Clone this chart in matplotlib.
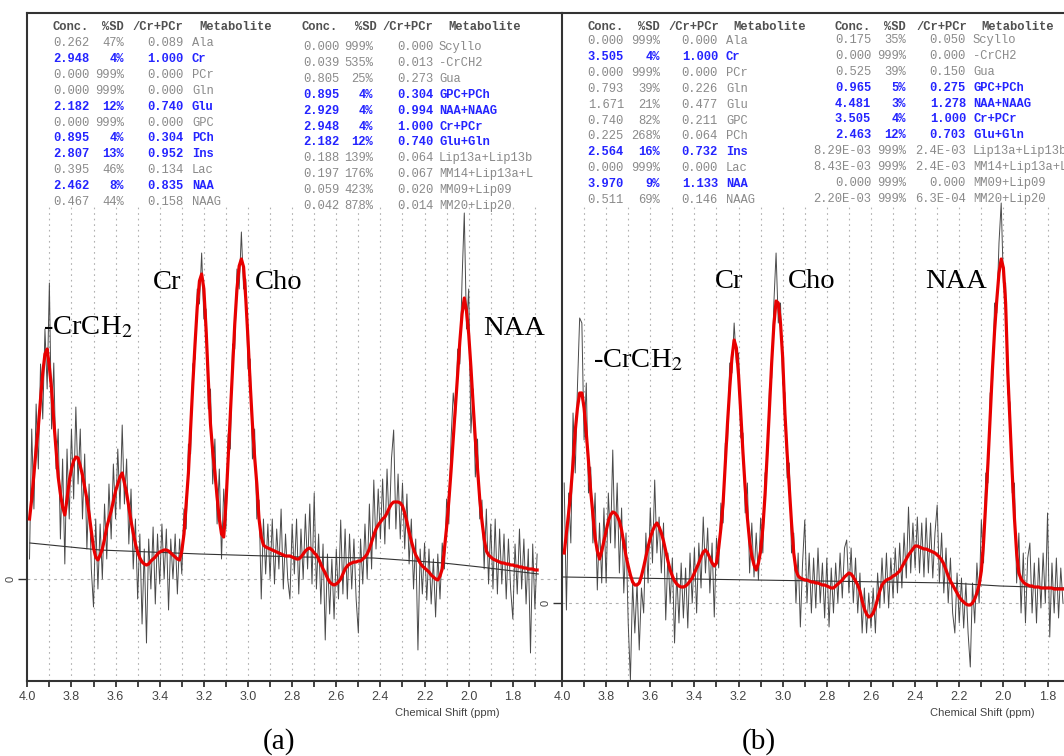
import numpy as np
import matplotlib
matplotlib.use("Agg")
import matplotlib.pyplot as plt
from matplotlib.ticker import FixedLocator, FormatStrFormatter

plt.rcParams['mathtext.fontset'] = 'stix'

# ---------------- data ----------------
# spectrum samples every 0.01 ppm, starting at 3.99 ppm
ppm_step = 0.01
ppm_start = 3.99

fit_a = [60, 80, 105, 130, 152, 180, 206, 225, 230, 212,
         190, 158, 130, 102, 85, 72, 64, 80, 98, 110,
         118, 122, 121, 113, 104, 92, 80, 65, 48, 31,
         22, 19, 24, 30, 40, 52, 60, 68, 78, 88,
         95, 102, 106, 96, 86, 72, 58, 46, 35, 27,
         21, 17, 15, 14, 15, 18, 20, 22, 25, 27,
         28, 29, 29, 28, 26, 24, 22, 20, 19, 28,
         45, 75, 106, 150, 195, 235, 272, 298, 305, 290,
         250, 200, 155, 128, 106, 82, 60, 45, 42, 75,
         120, 165, 210, 255, 290, 313, 320, 312, 280, 240,
         195, 155, 122, 95, 60, 42, 34, 32, 31, 30,
         29, 28, 27, 26, 25, 24, 23, 23, 23, 22,
         21, 20, 20, 22, 25, 28, 30, 31, 29, 26,
         24, 20, 15, 10, 6, 1, -3, -5, -6, -5,
         -3, 0, 5, 10, 13, 15, 16, 17, 17, 18,
         18, 20, 22, 25, 30, 37, 44, 50, 54, 57,
         60, 62, 66, 71, 75, 77, 77, 77, 76, 73,
         66, 57, 47, 38, 30, 24, 20, 16, 13, 11,
         9, 7, 4, 2, 0, -1, 3, 10, 30, 52,
         78, 108, 140, 172, 205, 238, 265, 281, 268, 245,
         212, 175, 140, 110, 80, 58, 40, 28, 24, 22,
         20, 19, 18, 17, 16, 16, 15, 15, 14, 14,
         13, 13, 12, 12, 11, 11, 10, 10, 10, 9,
         9]

data_a = [20, 150, 70, 175, 110, 215, 160, 250, 190, 296,
          150, 216, 110, 150, 40, 120, 15, 130, 60, 150,
          80, 172, 95, 150, 60, 125, 30, 95, 10, -28,
          60, -10, 55, 0, 75, 20, 95, 40, 115, 60,
          130, 70, 154, 75, 120, 35, 90, 10, 60, -20,
          45, -45, 30, -64, 40, -10, 52, -25, 45, -5,
          55, 0, 50, -31, 40, 0, 45, -15, 40, 5,
          70, 50, 135, 125, 215, 220, 290, 275, 326, 260,
          270, 170, 190, 95, 140, 55, 110, 20, 90, 50,
          145, 130, 235, 230, 310, 290, 347, 290, 300, 210,
          220, 120, 150, 60, 79, -20, 60, 5, 55, 0,
          60, -5, 50, 10, 70, -10, 45, 0, -20, 55,
          5, 60, -15, 50, 0, 65, 10, 75, -5, 86,
          -10, 45, -25, 35, -61, 25, -35, 20, -40, 30,
          -20, 59, -15, 50, -20, 45, -10, 40, -20, -54,
          40, -5, 55, 0, 75, 10, 99, 30, 90, 40,
          100, 35, 110, 50, 120, 149, 50, 105, 40, 96,
          30, 85, 15, 60, -10, 40, -71, 30, -15, 36,
          -21, 30, -25, 20, -38, 25, -20, 36, 10, 80,
          55, 140, 186, 160, 230, 215, 300, 366, 250, 290,
          146, 190, 102, 140, 60, 79, 10, 70, -5, 55,
          -10, 60, -15, 50, -5, 45, -20, 40, -10, -40,
          35, -15, 50, -10, 40, -25, 30, -74, 35, -30,
          25]

base_a_ppm = [3.988, 3.671, 3.218, 2.765, 2.432, 2.115, 1.949, 1.685]
base_a_val = [36, 29, 25, 22, 21, 16, 12, 5]

fit_b = [50, 70, 90, 112, 140, 172, 195, 210, 210, 195,
         170, 142, 112, 88, 65, 52, 44, 52, 62, 72,
         82, 88, 91, 90, 87, 82, 73, 60, 47, 37,
         28, 21, 18, 18, 20, 27, 36, 46, 56, 65,
         72, 77, 80, 76, 70, 62, 52, 42, 33, 27,
         22, 19, 17, 16, 16, 17, 19, 22, 25, 30,
         35, 40, 46, 51, 53, 50, 45, 40, 37, 40,
         55, 75, 100, 140, 180, 215, 245, 263, 255, 228,
         190, 150, 115, 85, 62, 47, 38, 33, 40, 52,
         75, 108, 150, 195, 240, 278, 302, 300, 280, 245,
         190, 150, 115, 80, 50, 33, 27, 25, 24, 23,
         23, 22, 21, 21, 20, 20, 19, 18, 18, 17,
         16, 15, 15, 17, 19, 21, 23, 26, 28, 30,
         29, 26, 22, 18, 12, 2, -6, -11, -14, -13,
         -10, -4, 4, 12, 18, 21, 23, 24, 25, 27,
         28, 30, 32, 36, 40, 44, 48, 51, 54, 57,
         57, 56, 55, 54, 54, 53, 52, 51, 50, 48,
         46, 43, 39, 33, 27, 22, 18, 14, 10, 6,
         3, 1, -1, -2, -2, 0, 4, 10, 18, 32,
         60, 100, 140, 185, 232, 272, 303, 330, 344, 335,
         300, 230, 180, 130, 85, 50, 30, 24, 21, 19,
         18, 17, 17, 16, 16, 16, 15, 15, 15, 15,
         15, 15, 14, 14, 14, 14, 14]

data_b = [120, -7, 110, 60, 190, 130, 216, 285, 280, 163,
          220, 110, 136, 60, 110, 13, 80, 20, 95, 20,
          110, 60, 153, 55, 120, 30, 95, 10, 70, -20,
          -77, 20, -30, 20, -47, 15, -10, 70, 20, 95,
          40, 123, 50, 86, 30, 80, -17, 50, 0, 45,
          -40, 30, -20, 40, -15, 35, -25, 50, 0, 55,
          -10, 60, 15, 86, 30, 75, 10, 60, -14, 65,
          35, 100, 80, 160, 160, 240, 230, 280, 240, 250,
          165, 170, 90, 120, 30, 80, 26, 70, 23, 85,
          50, 130, 135, 215, 225, 300, 350, 280, 300, 220,
          210, 125, 140, 50, 70, 0, 50, -24, 40, 83,
          0, 50, -10, 45, -5, 55, 0, 40, -15, 45,
          -24, 35, -10, 40, 0, 50, 5, 55, 63, 10,
          55, 0, 45, -10, 30, -30, 15, -30, 10, -25,
          15, -30, 30, -5, 45, 0, 50, -5, 45, 5,
          55, 10, 60, 15, 70, 25, 96, 30, 80, 35,
          86, 30, 80, 26, 85, 30, 80, 25, 70, 98,
          20, 70, 10, 55, 0, 45, -10, -30, 30, -20,
          25, -25, 20, -30, -64, 20, -20, 40, 0, 83,
          40, 130, 120, 210, 215, 300, 290, 360, 400, 320,
          320, 210, 200, 110, 120, 20, 70, -10, 50, -20,
          45, 60, -10, 40, -20, 45, -5, 50, 0, 90,
          -34, 40, -10, 45, -15, 35, 0]

base_b_ppm = [3.994, 2.830, 2.241, 2.015, 1.724]
base_b_val = [26, 22, 20, 17, 15]

major_ticks = [4.0, 3.8, 3.6, 3.4, 3.2, 3.0, 2.8, 2.6, 2.4, 2.2, 2.0, 1.8]
minor_ticks = [3.9, 3.7, 3.5, 3.3, 3.1, 2.9, 2.7, 2.5, 2.3, 2.1, 1.9, 1.7]

header = ["Conc.", "%SD", "/Cr+PCr", "Metabolite"]

t1_conc = ["0.262", "2.948", "0.000", "0.000", "2.182", "0.000", "0.895", "2.807", "0.395", "2.462", "0.467"]
t1_sd = ["47%", "4%", "999%", "999%", "12%", "999%", "4%", "13%", "46%", "8%", "44%"]
t1_ratio = ["0.089", "1.000", "0.000", "0.000", "0.740", "0.000", "0.304", "0.952", "0.134", "0.835", "0.158"]
t1_name = ["Ala", "Cr", "PCr", "Gln", "Glu", "GPC", "PCh", "Ins", "Lac", "NAA", "NAAG"]
t1_hi = [0, 1, 0, 0, 1, 0, 1, 1, 0, 1, 0]

t2_conc = ["0.000", "0.039", "0.805", "0.895", "2.929", "2.948", "2.182", "0.188", "0.197", "0.059", "0.042"]
t2_sd = ["999%", "535%", "25%", "4%", "4%", "4%", "12%", "139%", "176%", "423%", "878%"]
t2_ratio = ["0.000", "0.013", "0.273", "0.304", "0.994", "1.000", "0.740", "0.064", "0.067", "0.020", "0.014"]
t2_name = ["Scyllo", "-CrCH2", "Gua", "GPC+PCh", "NAA+NAAG", "Cr+PCr", "Glu+Gln",
           "Lip13a+Lip13b", "MM14+Lip13a+L", "MM09+Lip09", "MM20+Lip20"]
t2_hi = [0, 0, 0, 1, 1, 1, 1, 0, 0, 0, 0]

t3_conc = ["0.000", "3.505", "0.000", "0.793", "1.671", "0.740", "0.225", "2.564", "0.000", "3.970", "0.511"]
t3_sd = ["999%", "4%", "999%", "39%", "21%", "82%", "268%", "16%", "999%", "9%", "69%"]
t3_ratio = ["0.000", "1.000", "0.000", "0.226", "0.477", "0.211", "0.064", "0.732", "0.000", "1.133", "0.146"]
t3_name = ["Ala", "Cr", "PCr", "Gln", "Glu", "GPC", "PCh", "Ins", "Lac", "NAA", "NAAG"]
t3_hi = [0, 1, 0, 0, 0, 0, 0, 1, 0, 1, 0]

t4_conc = ["0.175", "0.000", "0.525", "0.965", "4.481", "3.505", "2.463", "8.29E-03", "8.43E-03", "0.000", "2.20E-03"]
t4_sd = ["35%", "999%", "39%", "5%", "3%", "4%", "12%", "999%", "999%", "999%", "999%"]
t4_ratio = ["0.050", "0.000", "0.150", "0.275", "1.278", "1.000", "0.703", "2.4E-03", "2.4E-03", "0.000", "6.3E-04"]
t4_name = ["Scyllo", "-CrCH2", "Gua", "GPC+PCh", "NAA+NAAG", "Cr+PCr", "Glu+Gln",
           "Lip13a+Lip13b", "MM14+Lip13a+L", "MM09+Lip09", "MM20+Lip20"]
t4_hi = [0, 0, 0, 1, 1, 1, 1, 0, 0, 0, 0]

peak_labels_a = ["-CrCH$_2$", "Cr", "Cho", "NAA"]
peak_labels_b = ["-CrCH$_2$", "Cr", "Cho", "NAA"]
panel_titles = ["(a)", "(b)"]
xlabel = "Chemical Shift (ppm)"

# ---------------- layout (pixels) ----------------
W, H = 1064, 756
fig = plt.figure(figsize=(W / 100, H / 100), dpi=100)
fig.patch.set_facecolor("white")


def fx(x):
    return x / W


def fy(y):
    return 1 - y / H


PX_PER_PPM = 220.7
TOP, BOTTOM = 13, 681
GRID_TOP = 207


def make_panel(left, right, zero_px, fit, data, bppm, bval, minors, zorder):
    ax = fig.add_axes([fx(left), fy(BOTTOM), (right - left) / W, (BOTTOM - TOP) / H])
    ax.set_zorder(zorder)
    ax.set_facecolor("white")
    ax.set_xlim(4.0, 4.0 - (right - left) / PX_PER_PPM)
    ax.set_ylim(-(BOTTOM - zero_px), zero_px - TOP)
    ppm = ppm_start - ppm_step * np.arange(len(fit))
    gtop = zero_px - GRID_TOP
    gl = [t for t in major_ticks[1:] + minors if ax.get_xlim()[1] < t]
    ax.vlines(gl, -(BOTTOM - zero_px), gtop, colors="#b0b0b0", lw=0.8,
              linestyles=(0, (1.5, 3.5)), zorder=1)
    ax.axhline(0, color="#b0b0b0", lw=0.8, ls=(0, (2.5, 3.5)), zorder=1)
    ax.plot(ppm, data, color="#4a4a4a", lw=0.7, zorder=2)
    ax.plot(bppm, bval, color="#333333", lw=0.8, zorder=3)
    ax.plot(ppm, fit, color="#e80000", lw=2.3, zorder=4, solid_joinstyle="round")
    for s in ["top", "left", "bottom"]:
        ax.spines[s].set_linewidth(1.5)
        ax.spines[s].set_color("#333333")
    ax.spines["right"].set_visible(False)
    ax.xaxis.set_major_locator(FixedLocator(major_ticks))
    ax.xaxis.set_minor_locator(FixedLocator(minors))
    ax.xaxis.set_major_formatter(FormatStrFormatter("%.1f"))
    ax.tick_params(axis="x", which="both", direction="out", length=4, width=1.3,
                   color="#333333", pad=3.5, labelsize=9, labelcolor="#444444")
    for lab in ax.get_xticklabels():
        lab.set_family("Liberation Sans")
    ax.set_yticks([0])
    ax.set_yticklabels(["0"], rotation=90, va="center", fontsize=8,
                       color="#444444", family="Liberation Sans")
    ax.tick_params(axis="y", direction="out", length=6.5, width=1.0, color="#333333", pad=2)
    return ax


ax_a = make_panel(27.3, 562, 579, fit_a, data_a, base_a_ppm, base_a_val,
                  minor_ticks, 1)
ax_b = make_panel(562, 1064, 603, fit_b, data_b, base_b_ppm, base_b_val,
                  minor_ticks[:-1], 2)

# ---------------- tables ----------------
MONO = "Liberation Mono"
FS = 8.7
GRAY, BLUE, HEAD = "#8a8a8a", "#2424ff", "#505050"


def draw_table(cols, conc, sd, ratio, name, hi, y0, dy=15.9):
    c_r, s_r, r_r, n_l, hdr = cols
    fig.text(fx(hdr[0]), fy(27), header[0], ha="right", va="center",
             family=MONO, fontsize=FS, weight="bold", color=HEAD)
    fig.text(fx(hdr[1]), fy(27), header[1], ha="right", va="center",
             family=MONO, fontsize=FS, weight="bold", color=HEAD)
    fig.text(fx(hdr[2]), fy(27), header[2], ha="right", va="center",
             family=MONO, fontsize=FS, weight="bold", color=HEAD)
    fig.text(fx(hdr[3]), fy(27), header[3], ha="left", va="center",
             family=MONO, fontsize=FS, weight="bold", color=HEAD)
    for i in range(len(conc)):
        y = fy(y0 + i * dy)
        col = BLUE if hi[i] else GRAY
        wt = "bold" if hi[i] else "normal"
        kw = dict(va="center", family=MONO, fontsize=FS, color=col, weight=wt)
        fig.text(fx(c_r), y, conc[i], ha="right", **kw)
        fig.text(fx(s_r), y, sd[i], ha="right", **kw)
        fig.text(fx(r_r), y, ratio[i], ha="right", **kw)
        fig.text(fx(n_l), y, name[i], ha="left", **kw)


draw_table((89, 124, 183, 192, (89, 124, 183, 199)),
           t1_conc, t1_sd, t1_ratio, t1_name, t1_hi, 43)
draw_table((339, 373, 433, 439, (338, 377, 433, 448)),
           t2_conc, t2_sd, t2_ratio, t2_name, t2_hi, 47)
draw_table((624, 660, 718, 726, (624, 660, 719, 733)),
           t3_conc, t3_sd, t3_ratio, t3_name, t3_hi, 41)
draw_table((871, 906, 966, 973, (871, 906, 967, 981)),
           t4_conc, t4_sd, t4_ratio, t4_name, t4_hi, 40)

# ---------------- peak labels ----------------
SERIF = "Liberation Serif"
for lab, (x, y) in zip(peak_labels_a, [(43, 334), (153, 289), (255, 289), (483, 335)]):
    fig.text(fx(x), fy(y), lab, ha="left", va="baseline", family=SERIF,
             fontsize=20.5, color="black", zorder=10)
for lab, (x, y) in zip(peak_labels_b, [(593, 367), (715, 288), (788, 288), (925, 288)]):
    fig.text(fx(x), fy(y), lab, ha="left", va="baseline", family=SERIF,
             fontsize=20.5, color="black", zorder=10)

# axis titles and panel captions
for x in (447, 982):
    fig.text(fx(x), fy(713), xlabel, ha="center", va="center",
             family="Liberation Sans", fontsize=8, color="#444444")
for t, x in zip(panel_titles, (279, 759)):
    fig.text(fx(x), fy(742), t, ha="center", va="center", family=SERIF,
             fontsize=21, color="black")

fig.savefig("out.png", dpi=100, facecolor="white")
